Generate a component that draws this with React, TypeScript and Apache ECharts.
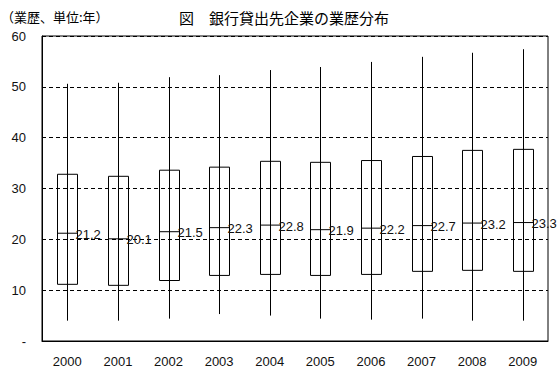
import React, { useEffect, useRef } from "react";
import * as echarts from "echarts";

const categories = ["2000", "2001", "2002", "2003", "2004", "2005", "2006", "2007", "2008", "2009"];
const lowValues = [4.0, 4.0, 4.4, 5.3, 5.0, 4.4, 4.2, 4.4, 4.0, 4.0];
const q1Values = [11.15, 10.95, 11.9, 12.9, 13.1, 12.9, 13.1, 13.7, 13.9, 13.7];
const medianValues = [21.2, 20.1, 21.5, 22.3, 22.8, 21.9, 22.2, 22.7, 23.2, 23.3];
const q3Values = [32.8, 32.4, 33.6, 34.2, 35.35, 35.15, 35.5, 36.3, 37.5, 37.7];
const highValues = [50.6, 50.8, 51.9, 52.3, 53.3, 53.9, 54.9, 55.9, 56.7, 57.4];
const yTicks = [0, 10, 20, 30, 40, 50, 60];

const LATIN = "'Liberation Sans', Arial, sans-serif";
const CJK = "'Noto Sans CJK JP', sans-serif";

export default function App() {
  const ref = useRef<HTMLDivElement>(null);
  useEffect(() => {
    if (!ref.current) return;
    const chart = echarts.init(ref.current, undefined, { renderer: "svg" });
    const data = categories.map((_, i) => [i, lowValues[i], q1Values[i], medianValues[i], q3Values[i], highValues[i]]);
    chart.setOption({
      animation: false,
      backgroundColor: "#fff",
      title: [
        {
          text: "図　銀行貸出先企業の業歴分布",
          left: 174,
          top: 5,
          textStyle: { fontFamily: CJK, fontSize: 15, fontWeight: "normal", color: "#000" },
        },
        {
          text: "（業歴、単位:年）",
          left: -4,
          top: 5,
          textStyle: { fontFamily: CJK, fontSize: 13, fontWeight: "normal", color: "#000" },
        },
      ],
      grid: {
        left: 42,
        right: 11,
        top: 36,
        bottom: 36,
        show: true,
        borderColor: "#000",
        borderWidth: 1,
        backgroundColor: "transparent",
      },
      xAxis: {
        type: "category",
        data: categories,
        boundaryGap: true,
        axisLine: { lineStyle: { color: "#000", width: 1 } },
        axisTick: { inside: true, length: 5, lineStyle: { color: "#000" } },
        axisLabel: { color: "#111", fontFamily: LATIN, fontSize: 13, margin: 14 },
        splitLine: { show: false },
      },
      yAxis: {
        type: "value",
        min: yTicks[0],
        max: yTicks[yTicks.length - 1],
        interval: 10,
        axisLine: { show: true, lineStyle: { color: "#000", width: 1 } },
        axisTick: { show: false },
        axisLabel: {
          color: "#111",
          fontFamily: LATIN,
          fontSize: 13,
          margin: 16,
          formatter: (v: number) => (v === 0 ? "-" : String(v)),
        },
        splitLine: { show: true, lineStyle: { color: "#000", type: [4, 3], width: 1 } },
      },
      series: [
        {
          type: "custom",
          data,
          encode: { x: 0, y: [1, 2, 3, 4, 5] },
          renderItem: (params: any, api: any) => {
            const idx = api.value(0);
            const low = api.coord([idx, api.value(1)]);
            const q1 = api.coord([idx, api.value(2)]);
            const med = api.coord([idx, api.value(3)]);
            const q3 = api.coord([idx, api.value(4)]);
            const high = api.coord([idx, api.value(5)]);
            const x = Math.round(low[0]) + 0.5;
            const hw = 10;
            return {
              type: "group",
              children: [
                {
                  type: "line",
                  shape: { x1: x, y1: low[1], x2: x, y2: high[1] },
                  style: { stroke: "#000", lineWidth: 1 },
                },
                {
                  type: "rect",
                  shape: { x: x - hw, y: q3[1], width: hw * 2, height: q1[1] - q3[1] },
                  style: { fill: "none", stroke: "#000", lineWidth: 1 },
                },
                {
                  type: "line",
                  shape: { x1: x - hw, y1: med[1], x2: x + hw, y2: med[1] },
                  style: { stroke: "#000", lineWidth: 1 },
                },
                {
                  type: "text",
                  style: {
                    text: medianValues[idx].toFixed(1),
                    x: x + hw - 2,
                    y: med[1] + 1,
                    verticalAlign: "middle",
                    align: "left",
                    fill: "#111",
                    font: `13px ${LATIN}`,
                  },
                },
              ],
            };
          },
        },
      ],
    });
    return () => chart.dispose();
  }, []);
  return <div ref={ref} style={{ width: 559, height: 377, position: "absolute", left: 0, top: 0 }} />;
}
